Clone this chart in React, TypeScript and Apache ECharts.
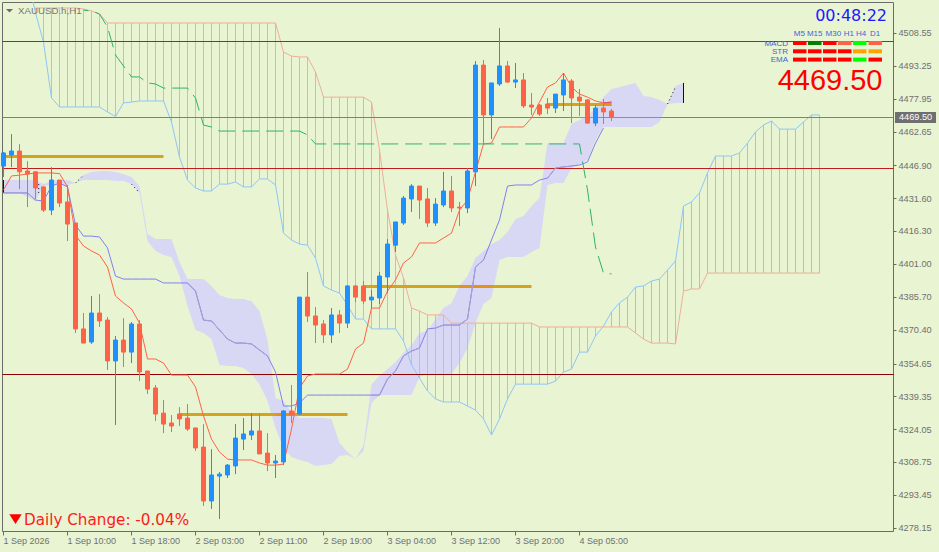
import React, { useEffect, useRef } from 'react';
import * as echarts from 'echarts';

// one bar every hour: [open, close, low, high]
const candles: number[][] = [
  [4446.7, 4452.8, 4441.6, 4453.3], [4451.9, 4453.7, 4446.2, 4461.6], [4453.7, 4444.0, 4436.0, 4456.9], [4444.4, 4443.0, 4427.6, 4449.0],
  [4444.0, 4436.5, 4431.4, 4444.4], [4437.0, 4426.2, 4425.3, 4437.4], [4426.2, 4440.2, 4423.9, 4446.2], [4440.2, 4429.5, 4427.6, 4440.2],
  [4430.0, 4419.7, 4411.8, 4437.9], [4420.2, 4370.9, 4369.0, 4420.2], [4370.9, 4364.3, 4364.3, 4378.3], [4364.8, 4378.3, 4363.9, 4386.2],
  [4378.3, 4374.6, 4371.8, 4387.1], [4375.0, 4356.0, 4351.8, 4376.4], [4356.0, 4365.7, 4326.2, 4367.6], [4365.7, 4360.1, 4353.2, 4375.9],
  [4360.1, 4373.2, 4355.0, 4374.1], [4373.2, 4350.9, 4346.6, 4375.0], [4351.3, 4342.9, 4340.6, 4351.3], [4343.4, 4331.3, 4328.0, 4344.8],
  [4331.7, 4326.6, 4322.4, 4337.8], [4327.1, 4325.7, 4322.9, 4330.8], [4331.3, 4329.0, 4325.7, 4334.5], [4329.4, 4324.3, 4323.4, 4335.9],
  [4324.8, 4315.5, 4314.1, 4324.8], [4315.9, 4290.8, 4288.5, 4326.6], [4290.8, 4302.9, 4287.1, 4314.9], [4302.4, 4303.3, 4282.4, 4304.3],
  [4302.9, 4307.5, 4301.5, 4308.0], [4307.1, 4320.1, 4303.3, 4326.6], [4319.6, 4322.0, 4314.5, 4329.4], [4321.5, 4323.4, 4319.2, 4331.7],
  [4323.4, 4312.7, 4312.7, 4331.7], [4313.1, 4308.5, 4304.7, 4322.4], [4308.5, 4309.4, 4301.5, 4312.2], [4309.0, 4332.7, 4307.5, 4333.1],
  [4332.7, 4330.8, 4327.1, 4344.8], [4331.3, 4385.7, 4330.8, 4385.7], [4385.7, 4376.9, 4374.1, 4397.4], [4376.9, 4372.7, 4364.3, 4381.1],
  [4373.2, 4368.1, 4364.3, 4375.0], [4368.1, 4377.4, 4364.3, 4380.6], [4377.4, 4373.6, 4369.0, 4379.7], [4373.6, 4390.9, 4371.3, 4391.3],
  [4390.9, 4385.7, 4383.4, 4391.3], [4390.9, 4383.9, 4382.5, 4393.2], [4384.4, 4385.7, 4380.6, 4389.0], [4385.3, 4395.5, 4382.5, 4397.4],
  [4395.1, 4410.4, 4387.6, 4412.7], [4409.9, 4420.7, 4406.7, 4420.7], [4420.2, 4431.8, 4419.3, 4432.8], [4431.4, 4437.4, 4425.3, 4438.3],
  [4437.4, 4430.9, 4422.1, 4437.4], [4431.4, 4420.2, 4418.3, 4436.5], [4420.2, 4429.0, 4418.8, 4431.8], [4428.6, 4435.1, 4427.6, 4444.0],
  [4435.1, 4427.2, 4425.3, 4442.1], [4427.6, 4427.2, 4418.8, 4430.0], [4427.2, 4444.4, 4424.8, 4445.8], [4444.0, 4493.7, 4437.4, 4495.6],
  [4493.7, 4470.5, 4457.0, 4496.1], [4470.5, 4485.4, 4459.3, 4485.4], [4484.9, 4493.3, 4484.0, 4511.0], [4493.3, 4485.8, 4485.4, 4495.6],
  [4485.8, 4486.8, 4483.0, 4494.7], [4486.8, 4474.7, 4473.7, 4490.0], [4475.1, 4474.2, 4470.5, 4480.7], [4475.1, 4470.9, 4470.0, 4475.6],
  [4475.6, 4473.7, 4470.9, 4478.4], [4473.7, 4480.2, 4471.4, 4480.2], [4479.8, 4486.8, 4472.3, 4490.0], [4486.3, 4478.4, 4466.7, 4487.2],
  [4478.8, 4477.0, 4470.0, 4482.6], [4477.5, 4466.7, 4466.3, 4477.9], [4466.7, 4473.7, 4465.3, 4475.1], [4473.7, 4471.9, 4466.3, 4477.9],
  [4472.3, 4469.5, 4467.7, 4473.3],
];

const tenkan = [
  4435.6, 4442.1, 4442.5, 4443.0, 4443.5, 4443.5, 4443.5, 4443.2, 4437.0, 4414.6,
  4409.5, 4407.2, 4405.3, 4399.7, 4386.2, 4383.0, 4380.2, 4373.6, 4356.9, 4356.9,
  4355.0, 4349.4, 4349.4, 4349.4, 4343.9, 4330.4, 4319.6, 4313.6, 4310.3, 4309.9,
  4309.9, 4309.9, 4308.5, 4307.5, 4307.5, 4308.0, 4324.3, 4343.4, 4349.0, 4349.9,
  4349.9, 4349.9, 4349.9, 4352.2, 4361.5, 4364.3, 4380.6, 4380.6, 4388.5, 4393.7,
  4401.6, 4404.4, 4410.9, 4410.9, 4410.9, 4413.2, 4415.5, 4426.2, 4430.9, 4444.0,
  4457.0, 4457.4, 4464.9, 4464.9, 4464.9, 4464.9, 4469.1, 4476.5, 4483.5, 4485.4,
  4490.0, 4483.5, 4480.2, 4478.8, 4477.0, 4476.1, 4476.5,
];

const kijun = [
  4434.2, 4434.2, 4434.2, 4434.2, 4430.9, 4430.4, 4437.4, 4438.8, 4437.0, 4419.3,
  4414.1, 4414.1, 4413.7, 4408.6, 4395.5, 4394.1, 4394.1, 4394.1, 4394.1, 4394.1,
  4392.3, 4392.3, 4392.3, 4392.3, 4388.5, 4375.0, 4374.6, 4370.4, 4366.2, 4364.3,
  4364.3, 4363.9, 4361.1, 4358.3, 4350.8, 4335.0, 4335.0, 4336.4, 4340.1, 4340.1,
  4340.1, 4340.1, 4340.1, 4340.1, 4340.1, 4340.1, 4340.1, 4340.1, 4347.6, 4351.3,
  4358.3, 4360.6, 4362.0, 4370.9, 4371.3, 4372.7, 4372.7, 4372.7, 4375.5, 4399.7,
  4403.0, 4412.3, 4421.6, 4437.4, 4437.9, 4437.9, 4437.9, 4440.2, 4441.1, 4445.8,
  4446.3, 4446.7, 4447.2, 4448.6, 4457.4, 4464.4,
];

const spanA = [
  null, null, null, 4535.6, 4518.0, 4504.4, 4478.4, 4474.2, 4474.2, 4474.2,
  4474.2, 4474.2, 4474.2, 4471.9, 4469.8, 4476.1, 4476.5, 4477.0, 4477.0, 4477.0,
  4477.0, 4467.2, 4450.9, 4440.2, 4436.5, 4435.1, 4435.1, 4438.3, 4438.3, 4439.3,
  4437.0, 4437.0, 4440.7, 4440.7, 4437.9, 4415.5, 4412.3, 4410.4, 4409.9, 4403.9,
  4390.9, 4389.0, 4387.6, 4382.0, 4375.5, 4375.5, 4370.9, 4370.9, 4370.9, 4370.9,
  4365.3, 4354.1, 4348.0, 4342.0, 4338.3, 4336.9, 4336.9, 4336.9, 4335.0, 4333.1,
  4329.0, 4321.5, 4329.0, 4338.3, 4345.2, 4345.2, 4345.2, 4345.2, 4345.2, 4346.6,
  4350.8, 4352.2, 4360.1, 4360.1, 4367.6, 4372.2, 4378.8, 4383.0, 4385.7, 4390.4,
  4390.9, 4393.2, 4394.1, 4398.3, 4402.5, 4428.1, 4430.0, 4434.2, 4443.5, 4451.4,
  4451.4, 4451.4, 4452.8, 4457.4, 4462.6, 4465.8, 4467.7, 4463.9, 4463.9, 4463.9,
  4467.2, 4470.5, 4470.5,
];

const spanB = [
  null, null, null, null, 4520.3, 4520.3, 4520.3, 4520.3, 4520.3, 4520.3,
  4519.8, 4518.9, 4517.5, 4513.3, 4513.3, 4513.3, 4513.3, 4513.3, 4513.3, 4513.3,
  4513.3, 4513.3, 4513.3, 4513.3, 4513.3, 4513.3, 4513.3, 4513.3, 4513.3, 4513.3,
  4513.3, 4513.3, 4513.3, 4513.3, 4513.3, 4499.8, 4497.9, 4497.5, 4497.5, 4490.5,
  4478.8, 4478.8, 4478.8, 4478.8, 4478.8, 4478.8, 4476.5, 4454.2, 4426.2, 4405.3,
  4394.6, 4380.6, 4379.2, 4377.4, 4377.4, 4377.4, 4373.6, 4373.6, 4373.6, 4373.6,
  4373.6, 4373.6, 4373.6, 4373.6, 4373.6, 4373.6, 4373.6, 4371.8, 4371.8, 4371.8,
  4371.8, 4371.8, 4371.8, 4371.8, 4371.8, 4371.8, 4371.8, 4371.8, 4371.8, 4369.0,
  4366.2, 4364.3, 4364.3, 4364.3, 4363.9, 4388.5, 4389.5, 4389.5, 4396.9, 4396.9,
  4396.9, 4396.9, 4396.9, 4396.9, 4396.9, 4396.9, 4396.9, 4396.9, 4396.9, 4396.9,
  4396.9, 4396.9, 4396.9,
];

const chikou = [
  null, null, null, null, null, null, null, null, null, null,
  4519.3, 4518.9, 4517.5, 4511.4, 4498.4, 4493.3, 4488.2, 4488.2, 4485.4, 4484.9,
  4483.0, 4483.0, 4483.0, 4483.0, 4478.4, 4465.8, 4464.9, 4463.0, 4463.0, 4463.0,
  4463.0, 4463.0, 4463.0, 4463.0, 4463.0, 4463.0, 4463.0, 4463.0, 4461.2, 4457.0,
  4457.0, 4457.0, 4457.0, 4457.0, 4457.0, 4457.0, 4457.0, 4457.0, 4457.0, 4457.0,
  4457.0, 4457.0, 4457.0, 4457.0, 4457.0, 4457.0, 4457.0, 4457.0, 4457.0, 4457.0,
  4457.0, 4457.0, 4457.0, 4457.0, 4457.0, 4457.0, 4457.0, 4457.0, 4457.0, 4457.0,
  4457.0, 4457.0, 4457.0, 4435.6, 4409.0, 4396.9, 4396.5,
];

// the filled band of the second cloud
const bandUpper = [
  4440.2, 4440.2, 4440.2, 4440.2, 4440.2, 4438.3, 4439.7, 4440.2, 4440.2, 4438.8,
  4442.5, 4443.9, 4444.4, 4444.4, 4443.9, 4443.0, 4441.6, 4437.4, 4415.1, 4412.7,
  4412.7, 4412.7, 4402.0, 4394.1, 4394.1, 4394.1, 4390.9, 4386.7, 4385.3, 4384.8,
  4384.8, 4383.9, 4379.2, 4365.7, 4338.7, 4337.3, 4332.2, 4329.4, 4329.4, 4329.4,
  4329.4, 4329.0, 4317.8, 4313.6, 4310.3, 4316.8, 4345.2, 4349.0, 4352.2, 4355.5,
  4359.7, 4363.4, 4369.0, 4369.9, 4375.5, 4380.6, 4383.0, 4390.9, 4395.5, 4403.9,
  4407.2, 4410.4, 4412.3, 4416.0, 4422.1, 4423.5, 4428.1, 4431.8, 4457.4, 4457.4,
  4457.4, 4466.3, 4468.1, 4470.0, 4473.7, 4478.8, 4482.6, 4483.5, 4484.4, 4485.4,
  4479.3, 4478.8, 4477.5, 4475.6, 4484.0, 4485.4,
];

const bandLower = [
  4434.2, 4434.2, 4434.2, 4432.3, 4430.4, 4437.4, 4437.9, 4437.9, 4437.9, 4438.8,
  4440.2, 4440.2, 4440.2, 4440.2, 4439.7, 4439.7, 4438.3, 4434.2, 4411.8, 4407.2,
  4405.3, 4404.4, 4395.5, 4381.6, 4370.4, 4369.0, 4366.2, 4354.1, 4353.6, 4353.6,
  4352.7, 4349.9, 4345.2, 4337.3, 4324.8, 4315.5, 4311.3, 4309.9, 4309.0, 4307.1,
  4307.5, 4308.0, 4311.7, 4312.2, 4310.3, 4314.1, 4336.4, 4340.1, 4340.1, 4340.1,
  4340.1, 4340.1, 4348.5, 4349.9, 4349.9, 4349.9, 4349.9, 4355.0, 4362.0, 4373.6,
  4382.5, 4385.3, 4403.0, 4404.4, 4404.4, 4404.4, 4406.7, 4408.6, 4437.9, 4438.8,
  4438.8, 4445.8, 4447.7, 4449.5, 4458.8, 4464.9, 4464.9, 4464.9, 4464.9, 4464.9,
  4464.9, 4464.9, 4467.2, 4475.6, 4476.1, 4476.1,
];

// where the band's edges swap over: [bar, price] pairs, drawn dotted
const bandCrossings = [
  [[4.4, 4438.3], [4.4, 4434.2]],
  [[9, 4438.8], [10, 4442.5]],
  [[16, 4438.3], [17, 4434.2]],
  [[83, 4475.6], [84, 4483.5]],
];

const levelPrices = [4504.7, 4445.6, 4349.7, 4469.5];
const levelColors = ['#C21B1B', '#C21B1B', '#8B0000', '#808080'];
// the last price line turns teal where it runs over the band
const bidOverBand = [70.8, 82.2];

const goldPrices = [4451.2, 4331.1, 4390.7, 4475.4];
const goldFrom = [0, 22, 45, 68];
const goldTo = [20, 43, 66, 76];

const yTicks = [
  4278.15, 4293.45, 4308.75, 4324.05, 4339.35, 4354.65, 4370.4, 4385.7,
  4401.0, 4416.3, 4431.6, 4446.9, 4462.65, 4477.95, 4493.25, 4508.55,
];
const xTicks = [0, 8, 16, 24, 32, 40, 48, 56, 64, 72];
const xTickLabels = [
  '1 Sep 2026', '1 Sep 10:00', '1 Sep 18:00', '2 Sep 03:00', '2 Sep 11:00',
  '2 Sep 19:00', '3 Sep 04:00', '3 Sep 12:00', '3 Sep 20:00', '4 Sep 05:00',
];

const timeframes = ['M5', 'M15', 'M30', 'H1', 'H4', 'D1'];
const timeframeCentres = [799.4, 814.7, 833.3, 848.9, 861.2, 875.2];
const signalNames = ['MACD', 'STR', 'EMA'];
const signalRows = [
  ['#FF0000', '#008000', '#FF0000', '#FF6347', '#00FF00', '#FF6347'],
  ['#FF0000', '#FF0000', '#FF0000', '#FF0000', '#FFA500', '#FFA500'],
  ['#FF0000', '#FF0000', '#FF0000', '#FF0000', '#00FF00', '#FF0000'],
];
const signalX = [793, 808, 823, 838, 853, 868.5];

const BG = '#E9F4D2';
const GREY = '#6B6B6B';
const BULL = '#1E90FF';
const BEAR = '#FF6347';
const FONT = '"Liberation Sans", Arial, sans-serif';

const line = (name: string, values: (number | null)[], color: string, z: number, extra: any = {}) => ({
  name,
  type: 'line',
  z,
  showSymbol: false,
  symbol: 'none',
  silent: true,
  data: values.map((v, i) => [i, v]),
  lineStyle: { color, width: 1, ...extra },
});

const inBand = (v: number | null, i: number) =>
  v != null && i < bandUpper.length && v <= bandUpper[i] && v >= bandLower[i];

const overBand = (values: (number | null)[]) => values.map((v, i) => (inBand(v, i) ? v : null));

// flat segments with a break between them, for the gold levels
const goldData: (number | null)[][] = [];
const goldOverBand: (number | null)[][] = [];
goldPrices.forEach((p, k) => {
  goldData.push([goldFrom[k], p], [goldTo[k], p], [goldTo[k], null]);
  for (let i = goldFrom[k]; i <= goldTo[k]; i++) {
    goldOverBand.push([i, inBand(p, i) ? p : null]);
  }
  goldOverBand.push([goldTo[k], null]);
});

const crossingData: (number | null)[][] = [];
bandCrossings.forEach((seg) => {
  crossingData.push(seg[0], seg[1], [seg[1][0], null]);
});

const panelGraphics = (): any[] => {
  const items: any[] = [
    { type: 'polygon', z: 20, shape: { points: [[6, 9], [13, 9], [9.5, 12.5]] }, style: { fill: '#6B6B6B' } },
    { type: 'text', z: 20, x: 18, y: 5.5, style: { text: 'XAUUSD.h,H1', fill: '#777777', font: `9.7px ${FONT}` } },
    { type: 'text', z: 20, x: 887, y: 7, style: { text: '00:48:22', fill: '#1A1AFF', align: 'right', font: '16px "DejaVu Sans"' } },
    { type: 'text', z: 20, x: 882.5, y: 65, style: { text: '4469.50', fill: '#FF0000', align: 'right', font: `29px ${FONT}` } },
    { type: 'rect', z: 20, shape: { x: 895, y: 112, width: 41, height: 11 }, style: { fill: '#6F6F6F' } },
    { type: 'text', z: 20, x: 899, y: 112.5, style: { text: '4469.50', fill: '#FFFFFF', font: `9.2px ${FONT}` } },
    { type: 'polygon', z: 20, shape: { points: [[9.3, 514.3], [21.7, 514.3], [15.5, 524]] }, style: { fill: '#FF0000' } },
    { type: 'text', z: 20, x: 24, y: 512.5, style: { text: 'Daily Change: -0.04%', fill: '#FF1A1A', font: '15.2px "DejaVu Sans"' } },
  ];
  timeframes.forEach((t, i) => {
    items.push({
      type: 'text', z: 20, x: timeframeCentres[i], y: 29,
      style: { text: t, fill: '#3E64D8', align: 'center', font: `8px ${FONT}` },
    });
  });
  signalNames.forEach((n, r) => {
    items.push({
      type: 'text', z: 20, x: 788, y: 39.3 + r * 8.1,
      style: { text: n, fill: '#3E64D8', align: 'right', font: `8px ${FONT}` },
    });
    signalRows[r].forEach((c, k) => {
      items.push({
        type: 'rect', z: 20,
        shape: { x: signalX[k], y: 41 + r * 8.3, width: 13.5, height: 4 },
        style: { fill: c },
      });
    });
  });
  return items;
};

const App: React.FC = () => {
  const chartRef = useRef<HTMLDivElement>(null);

  useEffect(() => {
    if (!chartRef.current) return;
    document.body.style.margin = '0';
    const chart = echarts.init(chartRef.current, undefined, { renderer: 'svg' });

    const option: any = {
      animation: false,
      backgroundColor: BG,
      textStyle: { fontFamily: FONT },
      grid: {
        left: 2.5, top: 2.5, width: 891, height: 529,
        show: true, borderColor: GREY, borderWidth: 1, backgroundColor: 'transparent',
      },
      xAxis: {
        type: 'value', min: -0.125, max: 111.25,
        axisLine: { show: false, onZero: false },
        splitLine: { show: false },
        axisTick: { show: true, length: 4, customValues: xTicks, lineStyle: { color: GREY } },
        axisLabel: {
          customValues: xTicks, color: '#707070', fontSize: 9, fontFamily: FONT, margin: 5, align: 'left',
          formatter: (v: number) => xTickLabels[xTicks.indexOf(v)] ?? '',
        },
      },
      yAxis: {
        type: 'value', position: 'right', min: 4276.6, max: 4522.84, scale: true,
        axisLine: { show: false, onZero: false },
        splitLine: { show: false },
        axisTick: { show: true, length: 3, customValues: yTicks, lineStyle: { color: GREY } },
        axisLabel: {
          customValues: yTicks, color: '#707070', fontSize: 9.2, fontFamily: FONT, margin: 5,
          formatter: (v: number) => v.toFixed(2),
        },
      },
      graphic: panelGraphics(),
      series: [
        {
          name: 'band', type: 'custom', z: 1, silent: true, clip: true,
          data: [[0, bandUpper[0]]],
          renderItem: (_p: any, api: any) => {
            const upper = bandUpper.map((v, i) => api.coord([i, v]));
            const lower = bandLower.map((v, i) => api.coord([i, v])).reverse();
            const last = bandUpper.length - 1;
            const edge = (i: number) => ({
              type: 'line',
              shape: {
                x1: api.coord([i, 4400])[0], y1: api.coord([i, bandUpper[i]])[1],
                x2: api.coord([i, 4400])[0], y2: api.coord([i, bandLower[i]])[1],
              },
              style: { stroke: '#111111', lineWidth: 1 },
            });
            return {
              type: 'group',
              children: [
                { type: 'polygon', shape: { points: [...upper, ...lower] }, style: { fill: '#D8D8F4' } },
                edge(0),
                edge(last),
              ],
            };
          },
        },
        {
          name: 'hatch', type: 'custom', z: 2, silent: true, clip: true,
          data: spanA.map((a, i) => [i, a, spanB[i]]).filter((d) => d[1] != null && d[2] != null),
          renderItem: (_p: any, api: any) => {
            const i = api.value(0);
            const a = api.value(1);
            const b = api.value(2);
            const pa = api.coord([i, a]);
            const pb = api.coord([i, b]);
            return {
              type: 'line',
              shape: { x1: pa[0], y1: pa[1], x2: pb[0], y2: pb[1] },
              style: { stroke: a > b ? '#92C8F6' : '#ECB09B', lineWidth: 1 },
            };
          },
        },
        line('Senkou A', spanA, '#8EC6F7', 3),
        line('Senkou B', spanB, '#F0AE98', 3),
        {
          name: 'levels', type: 'custom', z: 4, silent: true, clip: true,
          data: levelPrices.map((p, i) => [i, p]),
          renderItem: (_p: any, api: any) => {
            const k = api.value(0);
            const y = Math.floor(api.coord([0, api.value(1)])[1]) + 0.5;
            const children: any[] = [{
              type: 'line',
              shape: { x1: 2.5, y1: y, x2: 893.5, y2: y },
              style: { stroke: levelColors[k], lineWidth: 1 },
            }];
            if (k === 3) {
              children.push({
                type: 'line',
                shape: { x1: api.coord([bidOverBand[0], 4400])[0], y1: y, x2: api.coord([bidOverBand[1], 4400])[0], y2: y },
                style: { stroke: '#5FA3AC', lineWidth: 1 },
              });
            }
            return { type: 'group', children };
          },
        },
        {
          name: 'gold', type: 'line', z: 5, silent: true, showSymbol: false, symbol: 'none',
          data: goldData,
          lineStyle: { color: '#D4A421', width: 3, cap: 'butt' },
        },
        {
          name: 'gold over band', type: 'line', z: 5, silent: true, showSymbol: false, symbol: 'none',
          data: goldOverBand,
          lineStyle: { color: '#E8901E', width: 3, cap: 'butt' },
        },
        line('Chikou', chikou, '#2EB36B', 6, { type: [17, 7], dashOffset: 11.9 }),
        line('Kijun', kijun, '#8080F2', 6),
        line('Kijun over band', overBand(kijun), '#A79FD0', 6),
        line('Tenkan', tenkan, '#FF6347', 6),
        line('Tenkan over band', overBand(tenkan), '#D8487A', 6),
        {
          name: 'crossing', type: 'line', z: 6, silent: true, showSymbol: false, symbol: 'none',
          data: crossingData,
          lineStyle: { color: '#111111', width: 1, type: [1, 3] },
        },
        {
          name: 'XAUUSD.h', type: 'candlestick', z: 8, silent: true, barWidth: 4,
          data: candles.map((c, i) => [i, c[0], c[1], c[2], c[3]]),
          itemStyle: {
            color: BULL, color0: BEAR, borderColor: BULL, borderColor0: BEAR, borderWidth: 1,
          },
        },
      ],
    };

    chart.setOption(option);

    return () => {
      chart.dispose();
    };
  }, []);

  return <div ref={chartRef} style={{ width: 939, height: 552 }} />;
};

export default App;
